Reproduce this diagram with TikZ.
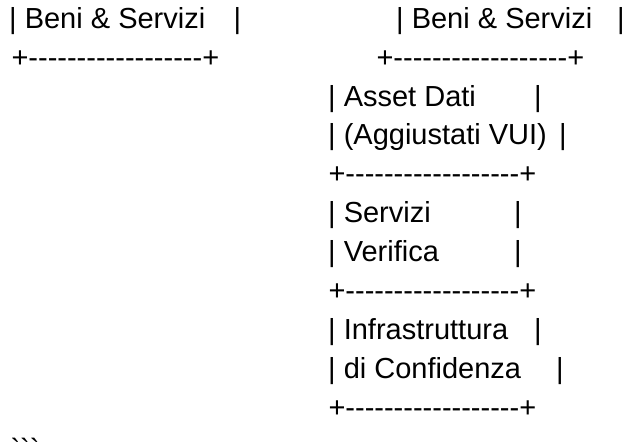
\documentclass[tikz,border=0pt]{standalone}
\usepackage{fontspec}
\newfontfamily\asc{Liberation Sans}
\tikzset{
  ln/.style={anchor=base west, inner sep=0pt, outer sep=0pt, font=\asc\fontsize{29bp}{35bp}\selectfont},
  bar/.style={anchor=base, inner sep=0pt, outer sep=0pt, font=\asc\fontsize{29bp}{35bp}\selectfont}
}
\newcommand{\dashrow}{+------------------+}
\begin{document}
\begin{tikzpicture}[x=1bp,y=-1bp]
  \useasboundingbox[fill=white] (0,0) rectangle (626,444);
  \begin{scope}
    \clip (0,0) rectangle (626,444);
    % top boxes: left and right copies of the goods & services box
    \node[ln] (bl) at (9.2,29) {| Beni \& Servizi};
    \node[bar] (blr) at (237.5,29) {|};
    \node[ln] (br) at (396.2,29) {| Beni \& Servizi};
    \node[bar] (brr) at (621,29) {|};
    \node[ln] (sl) at (11.5,68) {\dashrow};
    \node[ln] (sr) at (376.5,68) {\dashrow};
    % stacked column below the right box
    \node[ln] (a1) at (328.2,106.5) {| Asset Dati};
    \node[bar] (a1r) at (538,106.5) {|};
    \node[ln] (a2) at (328.2,145) {| (Aggiustati VUI)};
    \node[bar] (a2r) at (563,145) {|};
    \node[ln] (s1) at (328.5,184) {\dashrow};
    \node[ln] (v1) at (328.2,223) {| Servizi};
    \node[bar] (v1r) at (518,223) {|};
    \node[ln] (v2) at (328.2,262) {| Verifica};
    \node[bar] (v2r) at (518,262) {|};
    \node[ln] (s2) at (328.5,300.5) {\dashrow};
    \node[ln] (i1) at (328.2,339) {| Infrastruttura};
    \node[bar] (i1r) at (538,339) {|};
    \node[ln] (i2) at (328.2,378) {| di Confidenza};
    \node[bar] (i2r) at (560,378) {|};
    \node[ln] (s3) at (328.5,417) {\dashrow};
    % closing code fence, partly below the lower edge
    \node[ln] (fence) at (10.5,459) {\char96\char96\char96};
  \end{scope}
\end{tikzpicture}
\end{document}
